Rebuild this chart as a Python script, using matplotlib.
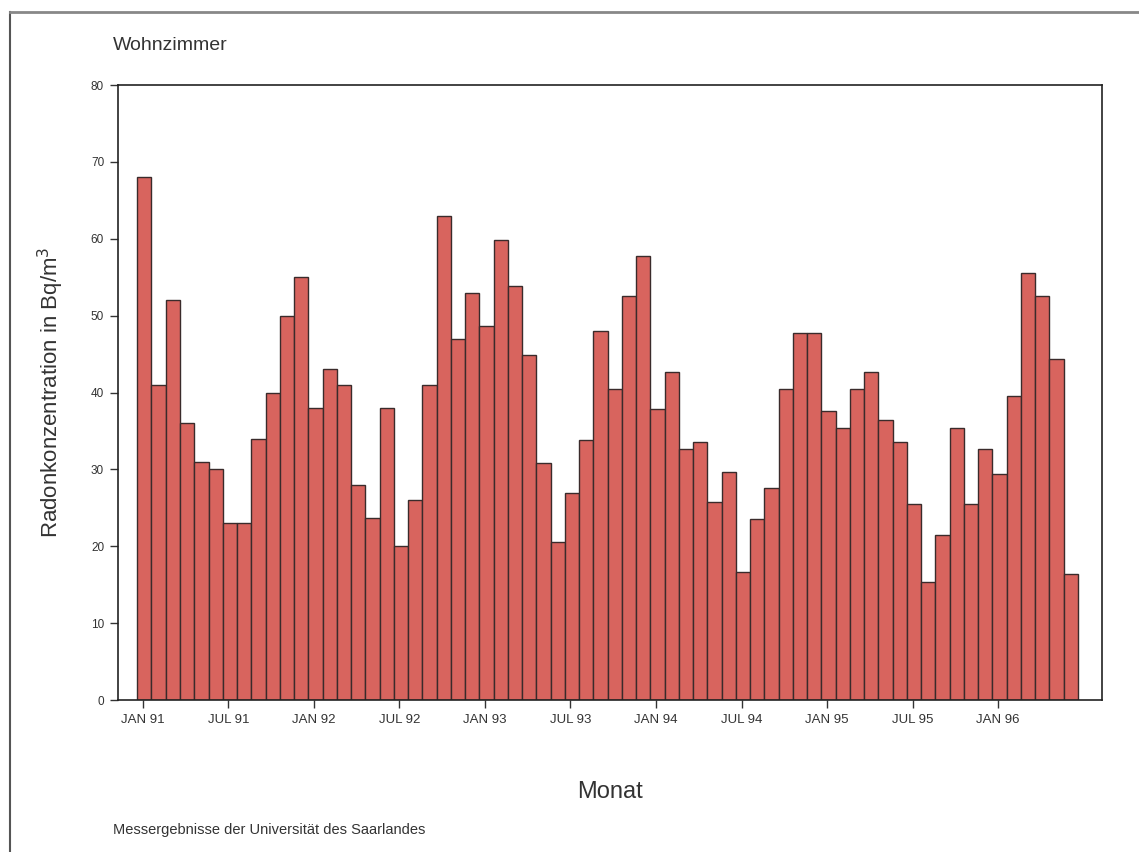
import matplotlib
matplotlib.use("Agg")
import matplotlib.pyplot as plt
import numpy as np
from matplotlib.lines import Line2D

plt.rcParams['font.family'] = ['Liberation Sans', 'DejaVu Sans']

# monthly radon values, JAN 91 .. JUN 96
radon = [68, 41, 52, 36, 31, 30, 23, 23, 34, 40, 50, 55,
         38, 43, 41, 28, 23.7, 38, 20, 26, 41, 63, 47, 53,
         48.7, 59.8, 53.9, 44.9, 30.8, 20.5, 26.9, 33.8, 48, 40.5, 52.6, 57.8,
         37.8, 42.7, 32.6, 33.6, 25.8, 29.6, 16.6, 23.5, 27.6, 40.5, 47.7, 47.7,
         37.6, 35.4, 40.5, 42.7, 36.4, 33.5, 25.5, 15.3, 21.5, 35.4, 25.5, 32.6,
         29.4, 39.5, 55.6, 52.5, 44.4, 16.4]
tick_labels = ["JAN 91", "JUL 91", "JAN 92", "JUL 92", "JAN 93", "JUL 93",
               "JAN 94", "JUL 94", "JAN 95", "JUL 95", "JAN 96"]
yticks = [0, 10, 20, 30, 40, 50, 60, 70, 80]

fig = plt.figure(figsize=(11.39, 8.52), dpi=100)
ax = fig.add_axes([0.1036, 0.1784, 0.864, 0.7218])

months = np.arange(len(radon))
ax.bar(months - 0.4, radon, width=1.0, align='edge',
       color='#d8645e', edgecolor='#3a2b2b', linewidth=1.0)

ax.set_xlim(-1.75, 67.3)
ax.set_ylim(0, 80)
ax.set_xticks(np.arange(len(tick_labels)) * 6)
ax.set_xticklabels(tick_labels, fontsize=9.5, color='#333333')
ax.set_yticks(yticks)
ax.set_yticklabels([str(v) for v in yticks], fontsize=8.5, color='#333333')
ax.tick_params(direction='out', length=6, width=1, color='#333333', pad=4)
for s in ax.spines.values():
    s.set_color('#222222')
    s.set_linewidth(1.2)

ax.set_ylabel("Radonkonzentration in Bq/m$^3$", fontsize=16, color='#333333', labelpad=18)
ax.set_xlabel("Monat", fontsize=17, color='#333333', labelpad=40)

fig.text(0.099, 0.947, "Wohnzimmer", fontsize=14, color='#333333', va='center')
fig.text(0.099, 0.026, "Messergebnisse der Universität des Saarlandes",
         fontsize=10.5, color='#333333', va='center')

# scan frame
fig.add_artist(Line2D([0.009, 0.009], [0.0, 0.986], transform=fig.transFigure,
                      color='#555555', linewidth=1.5))
fig.add_artist(Line2D([0.009, 1.0], [0.986, 0.986], transform=fig.transFigure,
                      color='#888888', linewidth=2))

fig.savefig("out.png", dpi=100)
